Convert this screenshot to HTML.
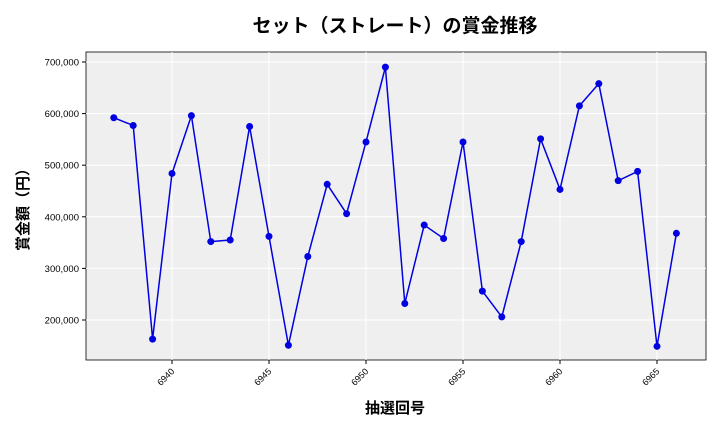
<!DOCTYPE html>
<html><head><meta charset="utf-8"><style>
body{margin:0;background:#fff;width:720px;height:432px;overflow:hidden}
svg text{font-family:"Liberation Sans","Noto Sans CJK JP",sans-serif}
</style></head><body>
<svg id="s" width="720" height="432" xmlns="http://www.w3.org/2000/svg">
<rect x="0" y="0" width="720" height="432" fill="#fff"/>
<rect x="86" y="52" width="620" height="308" fill="#efefef" stroke="#000" stroke-width="0.8"/>
<g id="grid"></g>
<polyline id="line" fill="none" stroke="#0000e0" stroke-width="1.5"/>
<g id="pts"></g>
<text x="395" y="32" font-size="19" text-anchor="middle" font-weight="bold">セット（ストレート）の賞金推移</text>
<text x="395" y="413" font-size="15" text-anchor="middle" font-weight="bold">抽選回号</text>
<text transform="translate(28,206) rotate(-90)" font-size="15" text-anchor="middle" font-weight="bold">賞金額（円）</text>
</svg>
<script>
var d=[592,577,163,484,596,352,355,575,362,151,323,463,406,545,690,232,384,358,545,256,206,352,551,453,615,658,470,488,149,368];
var X=function(n){return 172+(n-6940)*19.4},Y=function(v){return 62+(700-v)/100*51.6};
var ns="http://www.w3.org/2000/svg",g=document.getElementById('grid'),p=document.getElementById('pts');
function el(t,a,par){var e=document.createElementNS(ns,t);for(var k in a)e.setAttribute(k,a[k]);par.appendChild(e);return e}
for(var v=200;v<=700;v+=100){var y=Y(v);el('line',{x1:86,x2:706,y1:y,y2:y,stroke:'#fff','stroke-width':1},g);el('line',{x1:82,x2:86,y1:y,y2:y,stroke:'#000'},g);
var t=el('text',{x:79,y:y+3.5,'font-size':9.5,'text-anchor':'end'},g);t.textContent=v+',000';}
for(var n=6940;n<=6965;n+=5){var x=X(n);el('line',{x1:x,x2:x,y1:52,y2:360,stroke:'#fff','stroke-width':1},g);el('line',{x1:x,x2:x,y1:360,y2:364,stroke:'#000'},g);
var t=el('text',{x:x+3,y:372,'font-size':9,'text-anchor':'end',transform:'rotate(-45 '+(x+3)+' 372)'},g);t.textContent=n;}
var pts=[];d.forEach(function(v,i){var x=X(6937+i),y=Y(v);pts.push(x+','+y);el('circle',{cx:x,cy:y,r:3.5,fill:'#0000e0'},p)});
document.getElementById('line').setAttribute('points',pts.join(' '));
</script>
</body></html>
